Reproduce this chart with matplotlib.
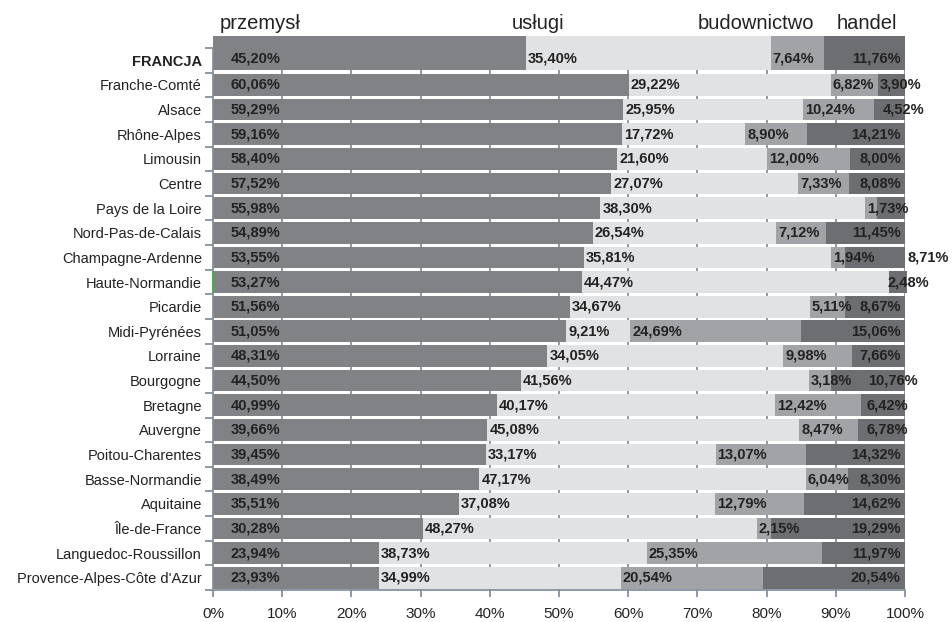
import numpy as np
import matplotlib
matplotlib.use("Agg")
import matplotlib.pyplot as plt

plt.rcParams['font.family'] = ['Liberation Sans', 'DejaVu Sans']

# data (shares in %)
regions = [
    "FRANCJA", "Franche-Comté", "Alsace", "Rhône-Alpes", "Limousin", "Centre",
    "Pays de la Loire", "Nord-Pas-de-Calais", "Champagne-Ardenne", "Haute-Normandie",
    "Picardie", "Midi-Pyrénées", "Lorraine", "Bourgogne", "Bretagne", "Auvergne",
    "Poitou-Charentes", "Basse-Normandie", "Aquitaine", "Île-de-France",
    "Languedoc-Roussillon", "Provence-Alpes-Côte d'Azur",
]
przemysl = [45.20, 60.06, 59.29, 59.16, 58.40, 57.52, 55.98, 54.89, 53.55, 53.27,
            51.56, 51.05, 48.31, 44.50, 40.99, 39.66, 39.45, 38.49, 35.51, 30.28,
            23.94, 23.93]
uslugi = [35.40, 29.22, 25.95, 17.72, 21.60, 27.07, 38.30, 26.54, 35.81, 44.47,
          34.67, 9.21, 34.05, 41.56, 40.17, 45.08, 33.17, 47.17, 37.08, 48.27,
          38.73, 34.99]
budownictwo = [7.64, 6.82, 10.24, 8.90, 12.00, 7.33, 1.73, 7.12, 1.94, 0.00,
               5.11, 24.69, 9.98, 3.18, 12.42, 8.47, 13.07, 6.04, 12.79, 2.15,
               25.35, 20.54]
handel = [11.76, 3.90, 4.52, 14.21, 8.00, 8.08, 3.99, 11.45, 8.71, 2.48,
          8.67, 15.06, 7.66, 10.76, 6.42, 6.78, 14.32, 8.30, 14.62, 19.29,
          11.97, 20.54]
sectors = ["przemysł", "usługi", "budownictwo", "handel"]

# labels that the original leaves out
hidden_handel = {"Pays de la Loire"}
# handel labels that were pushed off the right edge in the original
handel_label_left = {
    "Franche-Comté": 96.4, "Alsace": 96.8, "Champagne-Ardenne": 100.4,
    "Haute-Normandie": 97.5, "Bourgogne": 94.7, "Bretagne": 94.4, "Auvergne": 94.4,
}

colors = ["#808285", "#e1e2e4", "#a2a3a6", "#6d6e71"]
text_c = "#222222"
axis_c = "#8591a0"

W, H = 953, 622
fig = plt.figure(figsize=(W / 100, H / 100), dpi=100)
ax_l, ax_r, ax_t, ax_b = 213, 905, 48, 590
ax = fig.add_axes([ax_l / W, 1 - ax_b / H, (ax_r - ax_l) / W, (ax_b - ax_t) / H])

n = len(regions)
ypos = np.arange(n, dtype=float)
heights = np.full(n, 0.88)
# the national row is drawn taller and sticks out above the plot area
ypos[0] = -0.30
heights[0] = 1.38

series = [np.array(przemysl), np.array(uslugi), np.array(budownictwo), np.array(handel)]
left = np.zeros(n)
for vals, col in zip(series, colors):
    ax.barh(ypos, vals, left=left, height=heights, color=col, edgecolor="none",
            zorder=2, clip_on=False)
    left = left + vals

ax.set_xlim(0, 100)
ax.set_ylim(n - 0.5, -0.5)

# gridlines behind bars
for gx in range(10, 101, 10):
    ax.axvline(gx, color=axis_c, lw=1.3, zorder=1)

for s in ["top", "right"]:
    ax.spines[s].set_visible(False)
for s in ["left", "bottom"]:
    ax.spines[s].set_color(axis_c)
    ax.spines[s].set_linewidth(1.3)
    ax.spines[s].set_zorder(3)

ax.set_xticks(range(0, 101, 10))
ax.set_xticklabels([f"{v}%" for v in range(0, 101, 10)], fontsize=11, color=text_c)
ax.tick_params(axis="x", length=5, width=1.3, color=axis_c, pad=7)

ax.set_yticks(np.arange(n + 1) - 0.5)
ax.set_yticklabels([])
ax.tick_params(axis="y", which="major", length=6, width=1.3, color=axis_c)
ax.set_yticks(np.arange(n), minor=True)
ax.set_yticklabels(regions, minor=True, fontsize=10.5, color=text_c)
ax.tick_params(axis="y", which="minor", length=0, pad=8)
for lbl in ax.get_yticklabels(minor=True):
    if lbl.get_text() == "FRANCJA":
        lbl.set_fontweight("bold")

# small green mark next to Haute-Normandie, as in the original
hn = regions.index("Haute-Normandie")
ax.plot([0, 0], [hn - 0.42, hn + 0.42], color="#3cb043", lw=1.2, zorder=4, clip_on=False)


def fmt(v):
    return f"{v:.2f}".replace(".", ",") + "%"


lab_kw = dict(fontsize=10.5, fontweight="bold", color=text_c, va="center", zorder=5,
              clip_on=False)
for i, name in enumerate(regions):
    yl = -0.08 if i == 0 else i
    p, u, b, h = przemysl[i], uslugi[i], budownictwo[i], handel[i]
    ax.text(2.5, yl, fmt(p), ha="left", **lab_kw)
    ax.text(p + 0.3, yl, fmt(u), ha="left", **lab_kw)
    if b > 0:
        ax.text(p + u + 0.3, yl, fmt(b), ha="left", **lab_kw)
    if name in hidden_handel:
        continue
    if name in handel_label_left:
        ax.text(handel_label_left[name], yl, fmt(h), ha="left", **lab_kw)
    else:
        ax.text(99.4, yl, fmt(h), ha="right", **lab_kw)

# sector headers above the bars
header_x = [220, 512, 698, 837]
for name, hx in zip(sectors, header_x):
    fig.text(hx / W, 1 - 29 / H, name, fontsize=14.5, color=text_c,
             ha="left", va="baseline")

fig.savefig("out.png", dpi=100)
